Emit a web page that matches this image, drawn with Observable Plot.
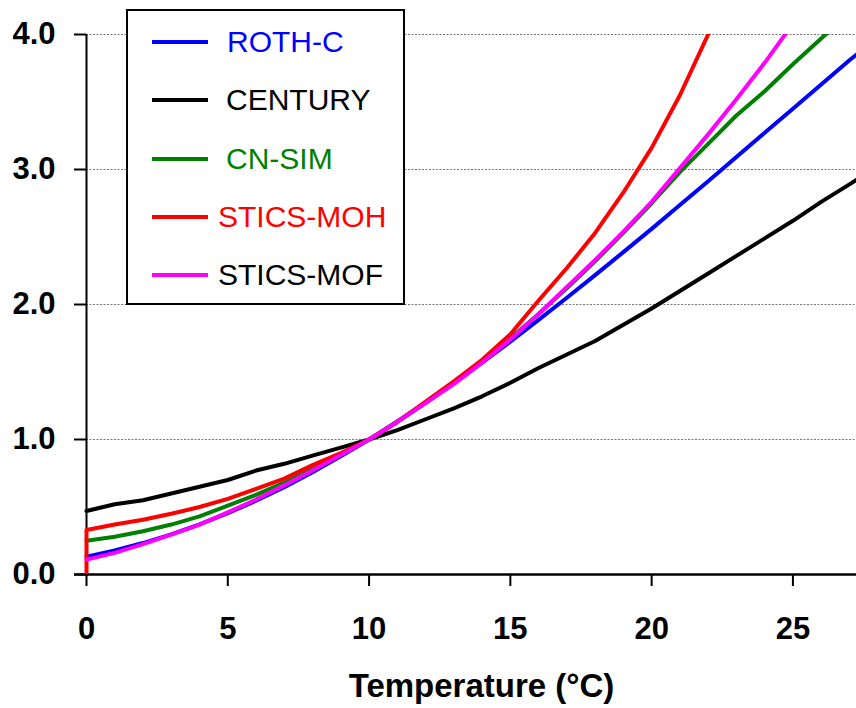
<!DOCTYPE html>
<html>
<head>
<meta charset="utf-8">
<script src="https://cdn.jsdelivr.net/npm/d3@7"></script>
<script src="https://cdn.jsdelivr.net/npm/@observablehq/plot@0.6"></script>
<style>
html, body { margin: 0; padding: 0; background: #fff; }
#wrap { position: relative; width: 856px; height: 708px; font-family: "Liberation Sans", Arial, sans-serif; }
#legend { position: absolute; left: 126px; top: 9px; width: 275px; height: 292px; border: 2px solid #000; background: #fff; }
.sw { position: absolute; left: 24px; width: 56px; height: 4px; margin-top: -2px; }
.lab { position: absolute; font-size: 30px; line-height: 30px; margin-top: -15px; white-space: nowrap; }
</style>
</head>
<body>
<div id="wrap"><div id="chart"></div><div id="legend"></div></div>
<script>
// Temperature (°C)
const temps = [0,1,2,3,4,5,6,7,8,9,10,11,12,13,14,15,16,17,18,19,20,21,22,23,24,25,26,27,27.3];
const xTicks = [0, 5, 10, 15, 20, 25];
const yTicks = [0, 1, 2, 3, 4];
const xLabel = "Temperature (°C)";

// Series values (relative rate, 1.0 at 10 °C)
const rothC    = [0.132,0.178,0.233,0.297,0.371,0.454,0.546,0.647,0.757,0.875,1.0,1.134,1.273,1.418,1.569,1.725,1.886,2.050,2.218,2.388,2.56,2.737,2.913,3.092,3.272,3.45,3.629,3.809,3.86];
const century  = [0.47,0.52,0.55,0.60,0.65,0.70,0.77,0.82,0.88,0.94,1.0,1.07,1.15,1.23,1.32,1.42,1.53,1.63,1.73,1.85,1.97,2.10,2.23,2.36,2.49,2.62,2.76,2.89,2.93];
const cnSim    = [0.25,0.28,0.32,0.37,0.43,0.51,0.59,0.68,0.78,0.89,1.0,1.13,1.27,1.42,1.58,1.75,1.93,2.12,2.32,2.53,2.75,2.98,3.19,3.40,3.58,3.78,3.97,4.16,4.22];
const sticsMohTemps = [0,0,1,2,3,4,5,6,7,8,9,10,11,12,13,14,15,16,17,18,19,20,21,22,23];
const sticsMoh = [0,0.33,0.37,0.405,0.45,0.50,0.56,0.635,0.71,0.81,0.90,1.0,1.13,1.28,1.43,1.59,1.78,2.03,2.27,2.53,2.83,3.16,3.55,4.0,4.5];
const sticsMof = [0.11,0.16,0.225,0.295,0.37,0.46,0.555,0.66,0.77,0.885,1.0,1.13,1.27,1.41,1.57,1.74,1.93,2.13,2.33,2.54,2.76,3.01,3.26,3.52,3.79,4.08];

const names      = ["ROTH-C", "CENTURY", "CN-SIM", "STICS-MOH", "STICS-MOF"];
const lineColors = ["#0000ff", "#000000", "#008000", "#ff0000", "#ff00ff"];
const textColors = ["#0000ff", "#000000", "#008000", "#ff0000", "#000000"];
const labelLeft  = [99, 98, 98, 90, 90];

const seriesTemps  = [temps, temps, temps, sticsMohTemps, temps];
const seriesValues = [rothC, century, cnSim, sticsMoh, sticsMof];
const drawOrder = [1, 0, 2, 3, 4];

function rows(k) {
  return seriesValues[k].map((v, i) => ({T: seriesTemps[k][i], v, s: names[k]}));
}

const lineMarks = drawOrder.map(k => Plot.line(rows(k), {
  x: "T", y: "v", stroke: lineColors[k], strokeWidth: 4, clip: true
}));

const chart = Plot.plot({
  width: 856,
  height: 708,
  marginLeft: 86,
  marginRight: 0,
  marginTop: 34,
  marginBottom: 134,
  x: {domain: [0, 27.25]},
  y: {domain: [0, 4]},
  style: {fontFamily: "'Liberation Sans', Arial, sans-serif", fontSize: "31px", fontWeight: "bold", color: "#000", background: "transparent"},
  marks: [
    Plot.gridY(yTicks.slice(1), {stroke: "#777", strokeOpacity: 1, strokeDasharray: "2,1.5", strokeWidth: 1}),
    Plot.axisY(yTicks, {tickSize: 12, tickPadding: 19, tickFormat: d => d.toFixed(1), label: null, strokeWidth: 2}),
    Plot.axisX(xTicks, {tickSize: 12, tickPadding: 30, label: null, strokeWidth: 2}),
    Plot.ruleX([0], {strokeWidth: 2}),
    Plot.ruleY([0], {strokeWidth: 2.5, insetLeft: -12}),
    ...lineMarks,
    Plot.text([xLabel], {text: d => d, frameAnchor: "bottom", dy: 122, dx: 10, fontSize: 33, fontWeight: "bold"})
  ]
});

// let clipped lines keep their full stroke width on the left frame edge
chart.querySelectorAll("clipPath rect").forEach(r => {
  r.setAttribute("x", +r.getAttribute("x") - 4);
  r.setAttribute("width", +r.getAttribute("width") + 4);
});

document.getElementById("chart").appendChild(chart);

// Legend
const legend = document.getElementById("legend");
const legendTop = 31, legendStep = 58.3;
names.forEach((name, i) => {
  const y = legendTop + i * legendStep;
  const sw = document.createElement("div");
  sw.className = "sw";
  sw.style.top = y + "px";
  sw.style.background = lineColors[i];
  legend.appendChild(sw);
  const lab = document.createElement("div");
  lab.className = "lab";
  lab.style.top = y + "px";
  lab.style.left = labelLeft[i] + "px";
  lab.style.color = textColors[i];
  lab.textContent = name;
  legend.appendChild(lab);
});
</script>
</body>
</html>
